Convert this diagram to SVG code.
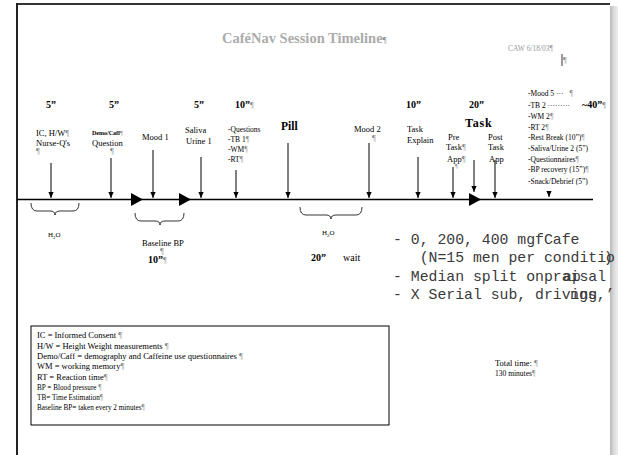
<svg xmlns="http://www.w3.org/2000/svg" width="618" height="455" viewBox="0 0 618 455">
<defs>
<linearGradient id="shadow" x1="0" y1="0" x2="1" y2="0">
<stop offset="0" stop-color="#b8b8b8"/>
<stop offset="0.5" stop-color="#dcdcdc"/>
<stop offset="1" stop-color="#eeeeee"/>
</linearGradient>
<marker id="ah" markerUnits="userSpaceOnUse" markerWidth="6" markerHeight="6" refX="6" refY="3" orient="auto">
<path d="M0,0.4 L6,3 L0,5.6 z" fill="#000"/>
</marker>
</defs>
<style>
.s{font-family:"Liberation Serif","Times New Roman",serif;fill:#000}
.b{font-weight:bold}
.t{font-size:8.5px}
.sm{font-size:7.5px}
.pm{fill:#8a8a8a}
.m{font-family:"Liberation Mono","Courier New",monospace;font-size:14.8px;fill:#3a3a3a}
.ar{stroke:#000;stroke-width:1;fill:none;marker-end:url(#ah)}
.br{stroke:#000;stroke-width:0.8;fill:none}
.lg{font-size:8.5px}
.lg2{font-size:7.2px}
</style>
<rect x="0" y="0" width="618" height="455" fill="#fff"/>
<g id="page">
<rect x="610" y="6" width="8" height="449" fill="url(#shadow)"/>
<line x1="16" y1="4" x2="610" y2="4" stroke="#333" stroke-width="2"/>
<line x1="17" y1="3" x2="17" y2="455" stroke="#222" stroke-width="2"/>
</g>
<g id="header">
<text class="s b" x="222" y="43" font-size="14.5" style="fill:#ababab">CaféNav Session Timeline<tspan class="pm" font-weight="normal" font-size="9">¶</tspan></text>
<text class="s" x="508" y="51" font-size="7.5" style="fill:#999">CAW 6/18/03<tspan>¶</tspan></text>
<line x1="562" y1="54" x2="562" y2="66" stroke="#000" stroke-width="0.8"/>
<text class="s pm" x="563" y="63" font-size="8">¶</text>
</g>
<g id="durations">
<text class="s b" x="46" y="108" font-size="10">5”</text>
<text class="s b" x="109" y="108" font-size="10">5”</text>
<text class="s b" x="194" y="108" font-size="10">5”</text>
<text class="s b" x="235" y="108" font-size="10">10”<tspan class="pm" font-weight="normal" font-size="8">¶</tspan></text>
<text class="s b" x="406" y="108" font-size="10">10”</text>
<text class="s b" x="469" y="108" font-size="10">20”</text>
<text class="s b" x="582" y="108" font-size="10">~40”<tspan class="pm" font-weight="normal" font-size="8">¶</tspan></text>
</g>
<g id="connectors">
<line x1="17" y1="199.5" x2="593" y2="199.5" stroke="#000" stroke-width="1.5"/>
<polygon points="131,193 143,199.5 131,206" fill="#000"/>
<polygon points="179,193 191,199.5 179,206" fill="#000"/>
<polygon points="469,193 481,199.5 469,206" fill="#000"/>
<line class="ar" x1="51" y1="163" x2="51" y2="198"/>
<line class="ar" x1="111" y1="158" x2="111" y2="198"/>
<line class="ar" x1="153" y1="150" x2="153" y2="198"/>
<line class="ar" x1="201" y1="157" x2="201" y2="198"/>
<line class="ar" x1="236" y1="170" x2="236" y2="198"/>
<line class="ar" x1="288" y1="143" x2="288" y2="198"/>
<line class="ar" x1="369" y1="143" x2="369" y2="198"/>
<line class="ar" x1="418" y1="157" x2="418" y2="198"/>
<line class="ar" x1="453" y1="167" x2="453" y2="198"/>
<line class="ar" x1="474" y1="160" x2="474" y2="192"/>
<line class="ar" x1="495" y1="160" x2="495" y2="198"/>
<line class="ar" x1="549" y1="191" x2="549" y2="197"/>
<path class="br" d="M31,203 Q31,211 37,211 L50,211 Q55,211 55,215 Q55,211 60,211 L73,211 Q79,211 79,203"/>
<path class="br" d="M135,213 Q135,221 141,221 L155,221 Q160,221 160,225 Q160,221 165,221 L178,221 Q184,221 184,213"/>
<path class="br" d="M300,207 Q300,215 306,215 L326,215 Q331,215 331,219 Q331,215 336,215 L356,215 Q362,215 362,207"/>
</g>
<g id="n-ic">
<text class="s t" x="36" y="136">IC, H/W<tspan class="pm">¶</tspan></text>
<text class="s t" x="36" y="146">Nurse-Q's</text>
<text class="s t pm" x="36" y="154">¶</text>
</g>
<g id="n-demo">
<text class="s b" x="92" y="135" font-size="6">Demo/Caff<tspan class="pm" font-weight="normal">¶</tspan></text>
<text class="s t" x="92" y="146">Question</text>
<text class="s t pm" x="110" y="154">¶</text>
</g>
<g id="n-mood1"><text class="s t" x="142" y="140">Mood 1</text></g>
<g id="n-saliva">
<text class="s t" x="185" y="133">Saliva</text>
<text class="s t" x="186" y="144">Urine 1</text>
</g>
<g id="n-questions">
<text class="s sm" x="228" y="132">-Questions</text>
<text class="s sm" x="228" y="142">-TB 1<tspan class="pm">¶</tspan></text>
<text class="s sm" x="228" y="152">-WM<tspan class="pm">¶</tspan></text>
<text class="s sm" x="228" y="162">-RT<tspan class="pm">¶</tspan></text>
</g>
<g id="n-pill"><text class="s b" x="281" y="130" font-size="11.5">Pill</text></g>
<g id="n-mood2">
<text class="s t" x="354" y="132">Mood 2</text>
<text class="s t pm" x="372" y="141">¶</text>
</g>
<g id="n-explain">
<text class="s t" x="407" y="132">Task</text>
<text class="s t" x="407" y="143">Explain</text>
</g>
<g id="n-task"><text class="s b" x="465" y="127" font-size="12" letter-spacing="0.8">Task</text></g>
<g id="n-pre">
<text class="s t" x="448" y="140">Pre</text>
<text class="s t" x="446" y="150">Task<tspan class="pm">¶</tspan></text>
<text class="s t" x="447" y="162">App<tspan class="pm">¶</tspan></text>
<text class="s pm" x="455" y="168" font-size="6">¶</text>
</g>
<g id="n-post">
<text class="s t" x="488" y="140">Post</text>
<text class="s t" x="488" y="150">Task</text>
<text class="s t" x="489" y="162">App</text>
</g>
<g id="n-final">
<text class="s sm" x="528" y="96">-Mood 5 ···<tspan class="pm" dx="6">¶</tspan></text>
<text class="s sm" x="528" y="108">-TB 2 ·········</text>
<text class="s sm" x="528" y="119">-WM 2<tspan class="pm">¶</tspan></text>
<text class="s sm" x="528" y="130">-RT 2<tspan class="pm">¶</tspan></text>
<text class="s sm" x="528" y="140">-Rest Break (10”)<tspan class="pm">¶</tspan></text>
<text class="s sm" x="528" y="151">-Saliva/Urine 2 (5”)</text>
<text class="s sm" x="528" y="162">-Questionnaires<tspan class="pm">¶</tspan></text>
<text class="s sm" x="528" y="172">-BP recovery (15”)<tspan class="pm">¶</tspan></text>
<text class="s sm" x="528" y="184">-Snack/Debrief (5”)</text>
</g>
<g id="n-h2o-1"><text class="s" x="48" y="237" font-size="7">H<tspan font-size="5" dy="1.5">2</tspan><tspan dy="-1.5">O</tspan></text></g>
<g id="n-baseline">
<text class="s t" x="142" y="246">Baseline BP</text>
<text class="s t pm" x="160" y="254">¶</text>
<text class="s b" x="148" y="263" font-size="10">10”<tspan class="pm" font-weight="normal" font-size="8">¶</tspan></text>
</g>
<g id="n-h2o-2">
<text class="s" x="322" y="235" font-size="7">H<tspan font-size="5" dy="1.5">2</tspan><tspan dy="-1.5">O</tspan></text>
<text class="s" x="311" y="261" font-size="10"><tspan font-weight="bold">20”</tspan><tspan x="343">wait</tspan></text>
</g>
<g id="notes">
<text class="m" x="393" y="244">- 0, 200, 400 mgfCafe</text>
<text class="m" x="393" y="262" xml:space="preserve">   (N=15 men per conditio</text>
<text class="m" x="604" y="262">)</text>
<text class="m" x="393" y="281">- Median split onpraisal</text>
<text class="m" x="563" y="281">ap</text>
<text class="m" x="393" y="299">- X Serial sub, driving</text>
<text class="m" x="570" y="299">ngs,’</text>
</g>
<g id="legend">
<rect x="31" y="326" width="358" height="99" fill="#fff" stroke="#000" stroke-width="1"/>
<text class="s lg" x="37" y="338">IC = Informed Consent <tspan class="pm">¶</tspan></text>
<text class="s lg" x="37" y="349">H/W = Height Weight measurements <tspan class="pm">¶</tspan></text>
<text class="s lg" x="37" y="359">Demo/Caff = demography and Caffeine use questionnaires <tspan class="pm">¶</tspan></text>
<text class="s lg" x="37" y="369">WM = working memory<tspan class="pm">¶</tspan></text>
<text class="s lg" x="37" y="380">RT = Reaction time<tspan class="pm">¶</tspan></text>
<text class="s lg2" x="37" y="390">BP = Blood pressure <tspan class="pm">¶</tspan></text>
<text class="s lg2" x="37" y="400">TB= Time Estimation<tspan class="pm">¶</tspan></text>
<text class="s lg2" x="37" y="410">Baseline BP= taken every 2 minutes<tspan class="pm">¶</tspan></text>
</g>
<g id="total">
<text class="s" x="495" y="366" font-size="8.5">Total time: <tspan class="pm">¶</tspan></text>
<text class="s" x="495" y="376" font-size="7.5">130 minutes<tspan class="pm">¶</tspan></text>
</g>
</svg>
